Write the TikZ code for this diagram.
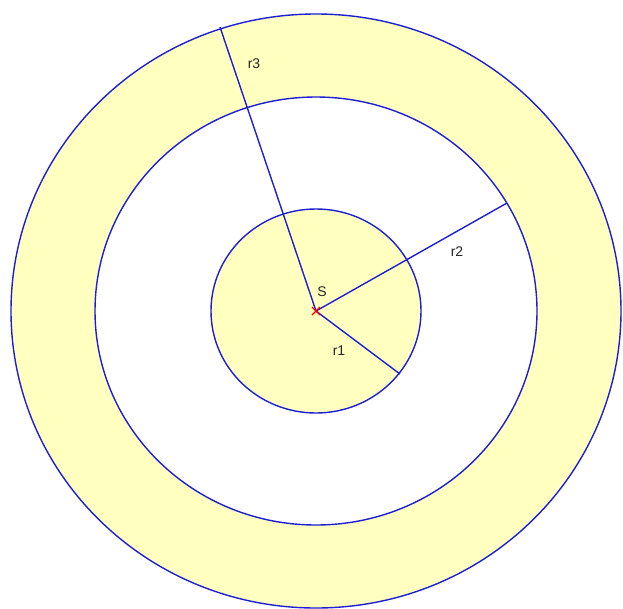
\documentclass[tikz,border=0pt]{standalone}
\usepackage{fontspec}
\setmainfont{Liberation Sans}
\definecolor{ringyellow}{RGB}{255,255,192}
\definecolor{ringblue}{RGB}{30,30,210}
\begin{document}
\begin{tikzpicture}[x=1pt,y=-1pt,
  ring/.style={draw=ringblue,line width=1.4pt},
  radius line/.style={draw=ringblue,line width=1.4pt},
  lbl/.style={font=\fontsize{14}{16}\selectfont,text=black!85,inner sep=0pt}]
\useasboundingbox (0,0) rectangle (623,608);
\coordinate (S) at (316,311);
\fill[ringyellow] (S) ellipse [x radius=305,y radius=297];
\fill[white] (S) ellipse [x radius=221,y radius=214];
\fill[ringyellow] (S) ellipse [x radius=105,y radius=102];
\draw[ring] (S) ellipse [x radius=305,y radius=297];
\draw[ring] (S) ellipse [x radius=221,y radius=214];
\draw[ring] (S) ellipse [x radius=105,y radius=102];
\coordinate (E1) at (400,374);
\coordinate (E2) at (507,203);
\coordinate (E3) at (220,27);
\draw[radius line] (S) -- (E1);
\draw[radius line] (S) -- (E2);
\draw[radius line] (S) -- (E3);
\draw[red,line width=1.3pt] (312,307) -- (320,315) (312,315) -- (320,307);
\node[lbl] (lS) at (322,292) {S};
\node[lbl] (l1) at (339,351) {r1};
\node[lbl] (l2) at (457,252) {r2};
\node[lbl] (l3) at (254,64) {r3};
\end{tikzpicture}
\end{document}
